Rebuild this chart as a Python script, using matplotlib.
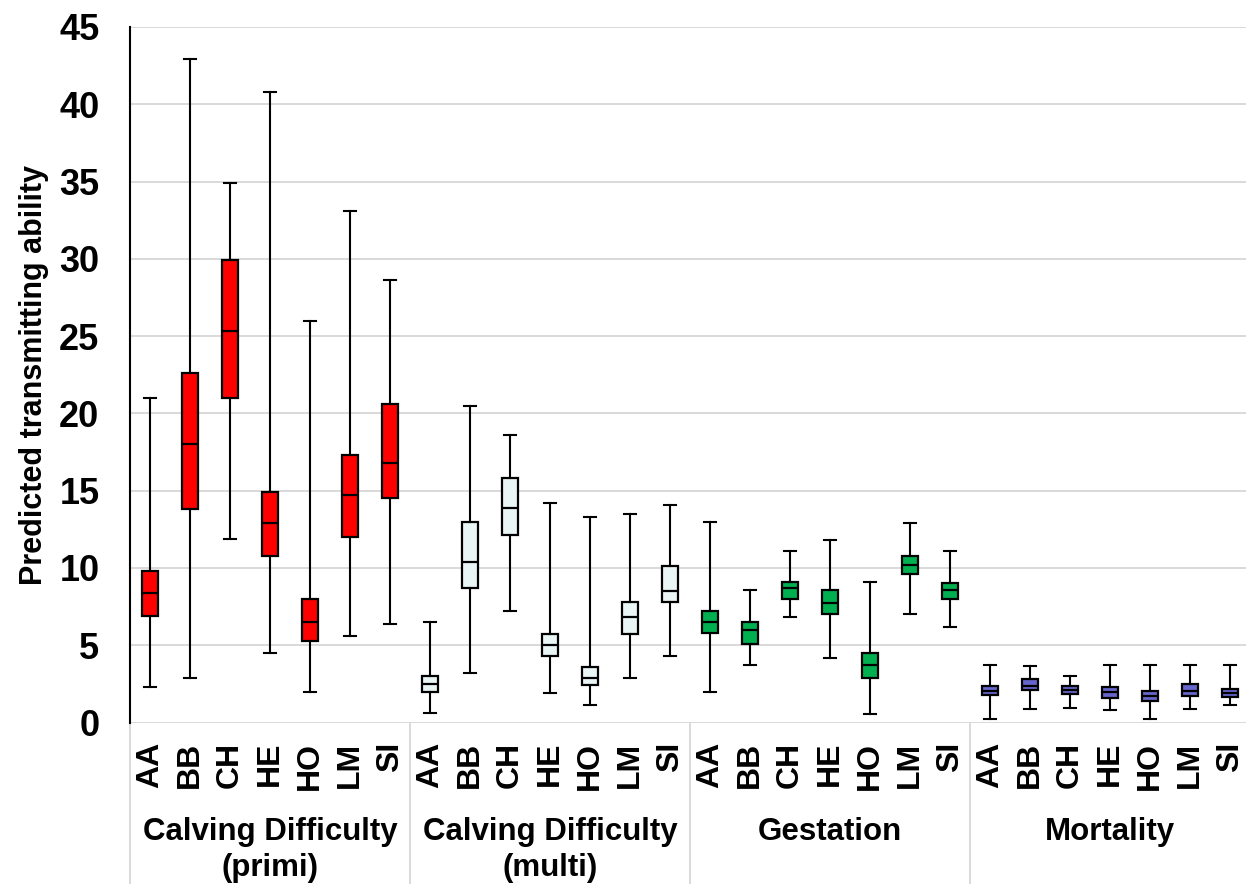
import numpy as np
import matplotlib
matplotlib.use("Agg")
import matplotlib.pyplot as plt
from matplotlib.transforms import blended_transform_factory

plt.rcParams['font.family'] = ['Liberation Sans', 'DejaVu Sans']
plt.rcParams['font.weight'] = 'bold'

breeds = ["AA", "BB", "CH", "HE", "HO", "LM", "SI"]
traits = ["Calving Difficulty\n(primi)", "Calving Difficulty\n(multi)", "Gestation", "Mortality"]
colors = ["#FF0000", "#E9F4F4", "#00B050", "#6666CC"]

# min, q1, median, q3, max for each breed
cd_primi_lo = [2.3, 2.9, 11.9, 4.5, 2.0, 5.6, 6.4]
cd_primi_q1 = [6.9, 13.8, 21.0, 10.8, 5.3, 12.0, 14.5]
cd_primi_med = [8.4, 18.0, 25.3, 12.9, 6.5, 14.7, 16.8]
cd_primi_q3 = [9.8, 22.6, 29.9, 14.9, 8.0, 17.3, 20.6]
cd_primi_hi = [21.0, 42.9, 34.9, 40.8, 26.0, 33.1, 28.6]

cd_multi_lo = [0.6, 3.2, 7.2, 1.9, 1.15, 2.9, 4.3]
cd_multi_q1 = [2.0, 8.7, 12.1, 4.3, 2.4, 5.7, 7.8]
cd_multi_med = [2.5, 10.4, 13.9, 5.0, 2.9, 6.8, 8.5]
cd_multi_q3 = [3.0, 13.0, 15.8, 5.7, 3.6, 7.8, 10.1]
cd_multi_hi = [6.5, 20.5, 18.6, 14.2, 13.3, 13.5, 14.1]

gest_lo = [2.0, 3.7, 6.8, 4.2, 0.55, 7.0, 6.2]
gest_q1 = [5.8, 5.1, 8.0, 7.0, 2.9, 9.6, 8.0]
gest_med = [6.5, 6.0, 8.7, 7.7, 3.7, 10.2, 8.6]
gest_q3 = [7.2, 6.5, 9.1, 8.6, 4.5, 10.8, 9.0]
gest_hi = [13.0, 8.6, 11.1, 11.8, 9.1, 12.9, 11.1]

mort_lo = [0.25, 0.9, 0.95, 0.8, 0.25, 0.85, 1.15]
mort_q1 = [1.75, 2.1, 1.85, 1.6, 1.4, 1.7, 1.65]
mort_med = [2.05, 2.35, 2.1, 1.95, 1.7, 2.05, 1.9]
mort_q3 = [2.35, 2.8, 2.35, 2.3, 2.05, 2.5, 2.15]
mort_hi = [3.75, 3.65, 3.0, 3.75, 3.75, 3.75, 3.75]

groups = [
    (cd_primi_lo, cd_primi_q1, cd_primi_med, cd_primi_q3, cd_primi_hi),
    (cd_multi_lo, cd_multi_q1, cd_multi_med, cd_multi_q3, cd_multi_hi),
    (gest_lo, gest_q1, gest_med, gest_q3, gest_hi),
    (mort_lo, mort_q1, mort_med, mort_q3, mort_hi),
]

fig = plt.figure(figsize=(12.46, 8.84), dpi=100)
ax = fig.add_axes([130 / 1246, 1 - 722.5 / 884, 1116 / 1246, 695.5 / 884])
# x in data units, y in figure fraction (for the trait names under the axis)
xdata_yfig = blended_transform_factory(ax.transData, fig.transFigure)

nb = len(breeds)
tick_pos = []
tick_lab = []
for g, (lo, q1, med, q3, hi) in enumerate(groups):
    stats = []
    for i in range(nb):
        stats.append({"whislo": lo[i], "q1": q1[i], "med": med[i],
                      "q3": q3[i], "whishi": hi[i], "fliers": []})
    pos = [g * nb + i + 0.5 for i in range(nb)]
    ax.bxp(stats, positions=pos, widths=0.42, capwidths=0.28,
           patch_artist=True, showfliers=False, manage_ticks=False,
           boxprops=dict(facecolor=colors[g], edgecolor="black", linewidth=1.6),
           medianprops=dict(color="black", linewidth=1.6),
           whiskerprops=dict(color="black", linewidth=1.5),
           capprops=dict(color="black", linewidth=1.5))
    tick_pos += pos
    tick_lab += breeds
    ax.text(g * nb + nb / 2, 1 - 817 / 884, traits[g], transform=xdata_yfig,
            ha="center", va="top", fontsize=22.5, fontweight="bold", linespacing=1.25)

ax.set_xlim(0, 27.9)
ax.set_ylim(0, 45)
ax.set_yticks(np.arange(0, 46, 5))
ax.tick_params(axis="y", length=0, pad=22, labelsize=26)
ax.set_xticks(tick_pos)
ax.set_xticklabels(tick_lab, rotation=90, fontsize=23, fontweight="bold")
ax.tick_params(axis="x", length=0, pad=14)
for lab in ax.get_yticklabels():
    lab.set_fontweight("bold")

ax.grid(axis="y", color="#D9D9D9", linewidth=1.4)
ax.set_axisbelow(True)
for s in ["top", "right", "bottom"]:
    ax.spines[s].set_visible(False)
ax.spines["left"].set_linewidth(1.5)
ax.spines["left"].set_color("black")

ax.set_ylabel("Predicted transmitting ability", fontsize=22, fontweight="bold")
ax.yaxis.set_label_coords((49 - 130) / 1116, 0.5)

# group separators under the axis
for g in range(len(groups)):
    ax.plot([g * nb, g * nb], [0, -0.24], transform=ax.get_xaxis_transform(),
            color="#D9D9D9", linewidth=1.4, clip_on=False)

fig.savefig("out.png", dpi=100)
